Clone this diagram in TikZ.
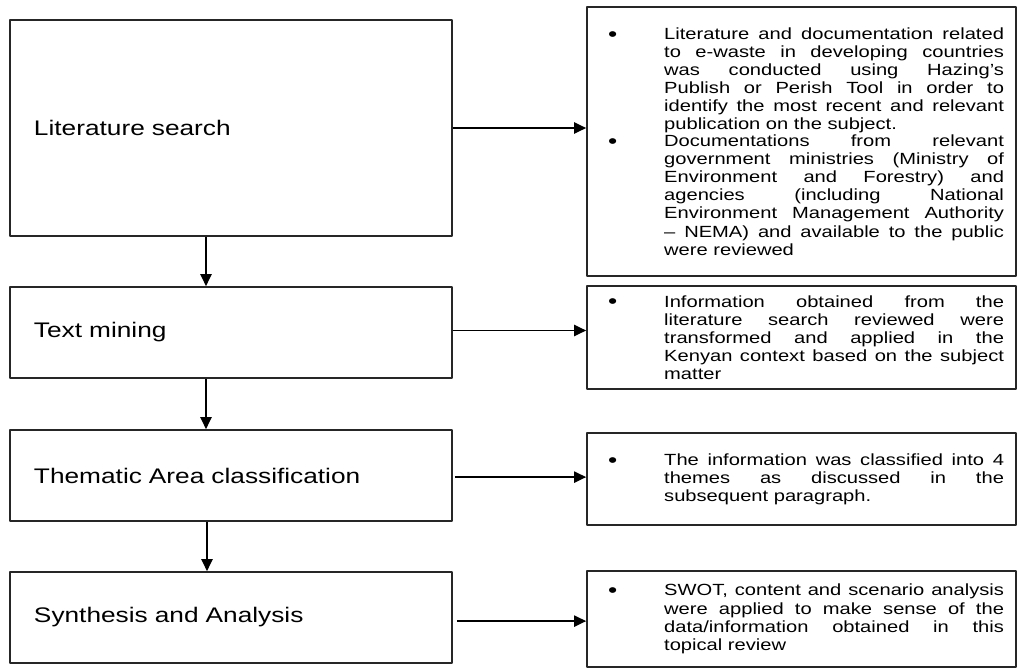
\documentclass[tikz,border=0pt]{standalone}
\usepackage{fontspec}
\setmainfont{Liberation Sans}[FakeStretch=1.245]
\usetikzlibrary{arrows.meta}

\tolerance=10000
\hyphenpenalty=10000
\exhyphenpenalty=10000
\newlength{\notehang}
\setlength{\notehang}{1.625cm}
\newcommand{\noteitem}[1]{\noindent\makebox[\notehang][l]{\hspace*{0.22cm}\raisebox{-1.4pt}{\fontsize{15}{12}\selectfont\textbullet}}%
  \parbox[t]{\dimexpr\linewidth-\notehang\relax}{#1}\par}

\begin{document}
\begin{tikzpicture}[line join=round,
    stagebox/.style={draw=black!85, line width=1.2pt, minimum width=11.05cm,
      text width=9.85cm, inner xsep=0.6cm, align=left,
      font=\fontsize{15}{18}\selectfont},
    notebox/.style={draw=black!85, line width=1.5pt, minimum width=10.72cm,
      text width=10.12cm, inner xsep=0.3cm, align=justify,
      font=\fontsize{11.5}{12.9}\selectfont},
    flowarrow/.style={line width=1.1pt, -{Triangle[length=0.3cm,width=0.28cm]}}]

  \useasboundingbox (0,0) rectangle (25.45,-16.7);

  % ---------- steps of the review ----------
  \node[stagebox, minimum height=5.4cm]   (L1) at (5.775,-3.2)     {Literature search};
  \node[stagebox, minimum height=2.275cm] (L2) at (5.775,-8.3125)  {Text mining};
  \node[stagebox, minimum height=2.275cm] (L3) at (5.775,-11.8875) {Thematic Area classification};
  \node[stagebox, minimum height=2.275cm] (L4) at (5.775,-15.4375) {Synthesis and Analysis};

  % ---------- what was done in each step ----------
  \node[notebox, minimum height=6.725cm] (R1) at (20.04,-3.5375) {%
    \noteitem{Literature and documentation related\linebreak
    to e-waste in developing countries\linebreak
    was conducted using Hazing's\linebreak
    Publish or Perish Tool in order to\linebreak
    identify the most recent and relevant\linebreak
    publication on the subject.}%
    \noteitem{Documentations from relevant\linebreak
    government ministries (Ministry of\linebreak
    Environment and Forestry) and\linebreak
    agencies (including National\linebreak
    Environment Management Authority\linebreak
    -- NEMA) and available to the public\linebreak
    were reviewed}};
  \node[notebox, minimum height=2.575cm] (R2) at (20.04,-8.4375) {%
    \noteitem{Information obtained from the\linebreak
    literature search reviewed were\linebreak
    transformed and applied in the\linebreak
    Kenyan context based on the subject\linebreak
    matter}};
  \node[notebox, minimum height=2.3cm] (R3) at (20.04,-11.975) {%
    \noteitem{The information was classified into 4\linebreak
    themes as discussed in the\linebreak
    subsequent paragraph.}};
  \node[notebox, minimum height=2.4cm] (R4) at (20.04,-15.475) {%
    \noteitem{SWOT, content and scenario analysis\linebreak
    were applied to make sense of the\linebreak
    data/information obtained in this\linebreak
    topical review}};

  % ---------- connectors ----------
  \draw[flowarrow] ([xshift=-0.625cm]L1.south) -- ([xshift=-0.625cm]L2.north);
  \draw[flowarrow] ([xshift=-0.625cm]L2.south) -- ([xshift=-0.625cm]L3.north);
  \draw[flowarrow] ([xshift=-0.6cm]L3.south) -- ([xshift=-0.6cm]L4.north);

  \draw[flowarrow] (L1.east) -- (L1.east -| R1.west);
  \draw[flowarrow] ([yshift=0.05cm]L2.east) -- ([yshift=0.05cm]L2.east -| R2.west);
  \draw[flowarrow, shorten <=0.05cm] ([yshift=-0.04cm]L3.east) -- ([yshift=-0.04cm]L3.east -| R3.west);
  \draw[flowarrow, shorten <=0.1cm] ([yshift=-0.09cm]L4.east) -- ([yshift=-0.09cm]L4.east -| R4.west);

\end{tikzpicture}
\end{document}
